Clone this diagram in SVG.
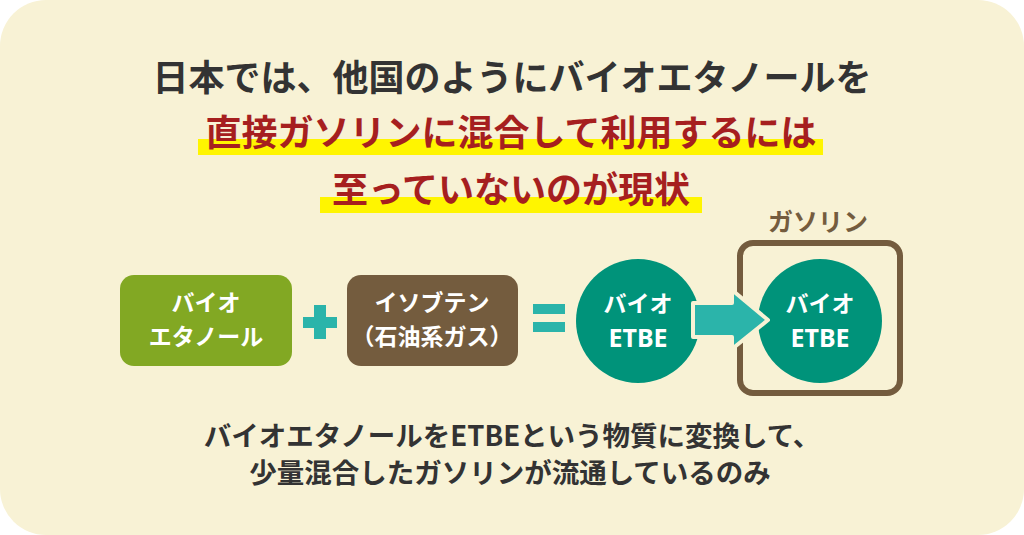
<svg xmlns="http://www.w3.org/2000/svg" width="1024" height="535" viewBox="0 0 1024 535">
<style>
  text { font-family: "Noto Sans CJK JP", "Noto Sans", sans-serif; font-weight: 700; text-anchor: middle; }
  .title { font-size: 36px; fill: #333333; }
  .red { font-size: 36px; fill: #a61f1f; }
  .hl { fill: #fff500; }
  .wt { font-size: 23px; fill: #ffffff; }
  .et { font-size: 25px; fill: #ffffff; font-family: "Noto Sans", "Noto Sans CJK JP", sans-serif; }
  .body { font-size: 27.5px; fill: #333333; }
  .teal { fill: #2bb4aa; }
  .circ { fill: #00937a; }
</style>
<rect x="0" y="0" width="1024" height="535" fill="#ffffff"/>
<rect x="0" y="0" width="1024" height="535" rx="46" ry="46" fill="#f8f2d5"/>

<g id="headline">
  <text class="title" x="512" y="91">日本では、他国のようにバイオエタノールを</text>
  <rect class="hl" x="198" y="139" width="625" height="16"/>
  <text class="red" x="511" y="146">直接ガソリンに混合して利用するには</text>
  <rect class="hl" x="320" y="197" width="382" height="16"/>
  <text class="red" x="511" y="203">至っていないのが現状</text>
</g>

<g id="bioethanol">
  <rect x="120" y="275" width="172" height="91" rx="14" ry="14" fill="#82a823"/>
  <text class="wt" x="206" y="311">バイオ</text>
  <text class="wt" x="206" y="345">エタノール</text>
</g>

<g id="isobutene">
  <rect x="347" y="275" width="171" height="91" rx="14" ry="14" fill="#745c3e"/>
  <text class="wt" x="432" y="311">イソブテン</text>
  <text class="wt" x="432" y="345">（石油系ガス）</text>
</g>

<g id="etbe">
  <circle class="circ" cx="638" cy="321" r="62"/>
  <text class="wt" x="638" y="312">バイオ</text>
  <text class="et" x="638" y="347">ETBE</text>
</g>

<g id="gasoline">
  <rect x="740" y="243" width="160" height="150" rx="13" ry="13" fill="none" stroke="#745c3e" stroke-width="6"/>
  <text x="818" y="231" style="font-size:25px; fill:#745c3e;">ガソリン</text>
  <circle class="circ" cx="820" cy="321" r="62"/>
  <text class="wt" x="820" y="312">バイオ</text>
  <text class="et" x="820" y="347">ETBE</text>
</g>

<g id="connectors">
  <g id="plus">
    <rect class="teal" x="303" y="317" width="34" height="11"/>
    <rect class="teal" x="314" y="305" width="12" height="34"/>
  </g>
  <g id="equals">
    <rect class="teal" x="533" y="304" width="32" height="10"/>
    <rect class="teal" x="533" y="322" width="32" height="10"/>
  </g>
  <path id="arrow" class="teal" d="M693,303 L732,303 L732,290 L768,320 L732,349 L732,337 L693,337 Z" stroke="#f8f2d5" stroke-width="4" stroke-linejoin="round"/>
</g>

<g id="caption">
  <text class="body" x="512" y="446">バイオエタノールをETBEという物質に変換して、</text>
  <text class="body" x="510" y="483">少量混合したガソリンが流通しているのみ</text>
</g>
</svg>
